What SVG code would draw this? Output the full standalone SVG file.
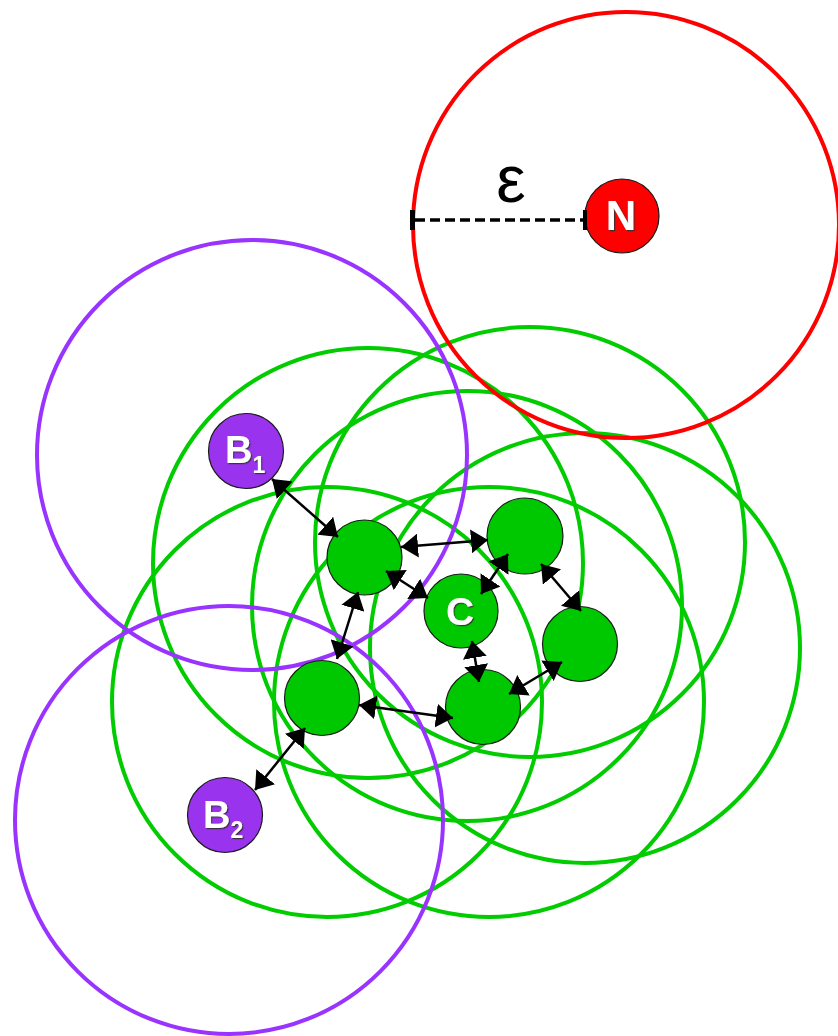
<svg xmlns="http://www.w3.org/2000/svg" width="838" height="1036" viewBox="0 0 838 1036">
  <style>
    .range-g { fill: none; stroke: #00cc00; stroke-width: 4; }
    .range-p { fill: none; stroke: #9933ff; stroke-width: 4; }
    .range-r { fill: none; stroke: #ff0000; stroke-width: 4; }
    .node-g { fill: #00c800; stroke: #1a1a1a; stroke-width: 1.2; }
    .node-p { fill: #9933ee; stroke: #1a1a1a; stroke-width: 1.2; }
    .node-r { fill: #ff0000; stroke: #1a1a1a; stroke-width: 1.2; }
    .lbl { font-family: "Liberation Sans", Arial, sans-serif; font-weight: bold; fill: #ffffff; filter: url(#shadow); }
    .link { stroke: #000000; stroke-width: 2.5; fill: none; marker-start: url(#ah); marker-end: url(#ah); }
    .eps { font-family: "Liberation Sans", Arial, sans-serif; fill: #000000; }
  </style>
  <defs>
    <marker id="ah" markerUnits="userSpaceOnUse" markerWidth="18" markerHeight="24" refX="17" refY="12" orient="auto-start-reverse">
      <path d="M0,0 L17,12 L0,24 z" fill="#000000"/>
    </marker>
    <filter id="shadow" x="-20%" y="-20%" width="140%" height="140%">
      <feDropShadow dx="1.2" dy="1.2" stdDeviation="0.6" flood-color="#333333" flood-opacity="0.9"/>
    </filter>
  </defs>
  <rect width="838" height="1036" fill="#ffffff"/>

  <g id="ranges">
    <circle class="range-g" cx="368" cy="563" r="215"/>
    <circle class="range-g" cx="530" cy="542" r="215"/>
    <circle class="range-g" cx="467" cy="606" r="215"/>
    <circle class="range-g" cx="585" cy="648" r="215"/>
    <circle class="range-g" cx="489" cy="702" r="215"/>
    <circle class="range-g" cx="327" cy="702" r="215"/>
    <circle class="range-p" cx="252" cy="455" r="215"/>
    <circle class="range-p" cx="229" cy="820" r="214"/>
    <circle class="range-r" cx="626" cy="225" r="213"/>
  </g>

  <g id="node-N">
    <circle class="node-r" cx="622" cy="216" r="37"/>
    <text class="lbl" x="621" y="230" font-size="42" text-anchor="middle">N</text>
  </g>
  <g id="node-B1">
    <circle class="node-p" cx="246" cy="451" r="37.5"/>
    <text class="lbl" x="225" y="463" font-size="38">B<tspan font-size="23" dy="10">1</tspan></text>
  </g>
  <g id="node-B2">
    <circle class="node-p" cx="225" cy="815" r="37.5"/>
    <text class="lbl" x="203" y="828" font-size="38">B<tspan font-size="23" dy="10">2</tspan></text>
  </g>
  <g id="node-G1"><circle class="node-g" cx="364.5" cy="557.5" r="37.5"/></g>
  <g id="node-G2"><circle class="node-g" cx="525" cy="536" r="38"/></g>
  <g id="node-C">
    <circle class="node-g" cx="461" cy="611" r="37"/>
    <text class="lbl" x="460" y="625" font-size="39" text-anchor="middle">C</text>
  </g>
  <g id="node-G3"><circle class="node-g" cx="580" cy="644" r="37.5"/></g>
  <g id="node-G4"><circle class="node-g" cx="483" cy="707" r="37.5"/></g>
  <g id="node-G5"><circle class="node-g" cx="322" cy="698" r="37.5"/></g>

  <g id="connectors">
    <line class="link" x1="272" y1="479" x2="338" y2="537"/>
    <line class="link" x1="401" y1="547" x2="488" y2="540"/>
    <line class="link" x1="386" y1="571" x2="428" y2="598"/>
    <line class="link" x1="358" y1="592" x2="337" y2="659"/>
    <line class="link" x1="508" y1="554" x2="481" y2="594"/>
    <line class="link" x1="541" y1="564" x2="581" y2="611"/>
    <line class="link" x1="472" y1="641" x2="479" y2="682"/>
    <line class="link" x1="562" y1="662" x2="509" y2="694"/>
    <line class="link" x1="453" y1="718" x2="359" y2="705"/>
    <line class="link" x1="305" y1="728" x2="255" y2="790"/>
    <g id="epsilon-radius">
      <line x1="415" y1="220" x2="585" y2="220" stroke="#000000" stroke-width="3.5" stroke-dasharray="10 5"/>
      <line x1="412.5" y1="210" x2="412.5" y2="230" stroke="#000000" stroke-width="5"/>
      <line x1="585" y1="210" x2="585" y2="230" stroke="#000000" stroke-width="4"/>
    </g>
  </g>
  <text class="eps" x="511" y="202" font-size="66" text-anchor="middle">ε</text>
</svg>
